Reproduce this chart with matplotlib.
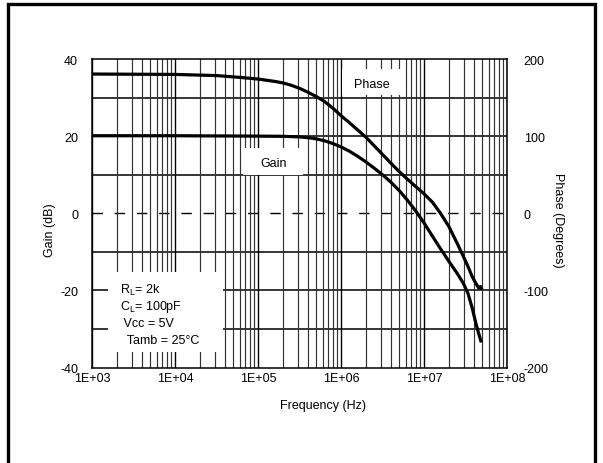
import matplotlib
matplotlib.use("Agg")
import matplotlib.pyplot as plt
import numpy as np
from matplotlib.ticker import FixedLocator, LogLocator, NullFormatter, FuncFormatter
from matplotlib.patches import Rectangle

plt.rcParams['font.family'] = ['Liberation Sans', 'DejaVu Sans']
plt.rcParams['mathtext.fontset'] = 'custom'
plt.rcParams['mathtext.rm'] = 'Liberation Sans'
plt.rcParams['mathtext.it'] = 'Liberation Sans'
plt.rcParams['font.size'] = 9
plt.rcParams['axes.unicode_minus'] = False

# ---- data ----
gain_freq = [1e3, 1e4, 1e5, 2.0e5, 3.16e5, 3.98e5, 5.01e5, 6.31e5, 7.94e5, 1.0e6,
             1.26e6, 1.58e6, 2.0e6, 2.51e6, 3.16e6, 3.98e6, 5.01e6, 6.31e6,
             7.94e6, 1.0e7, 1.26e7, 1.58e7, 2.0e7, 2.51e7, 2.95e7, 3.39e7,
             3.8e7, 4.27e7, 4.9e7]
gain_db = [20.1, 20.1, 20.0, 19.95, 19.8, 19.6, 19.3, 18.8, 18.1, 17.2,
           16.1, 14.8, 13.3, 11.7, 10.0, 8.1, 5.9, 3.4,
           0.6, -2.5, -5.9, -9.2, -12.5, -15.6, -18.0, -20.8,
           -24.5, -29.0, -33.5]

phase_freq = [1e3, 1e4, 3.16e4, 6.31e4, 1e5, 1.58e5, 2.0e5, 2.51e5, 3.16e5, 3.98e5,
              5.01e5, 6.31e5, 7.94e5, 1.0e6, 1.26e6, 1.58e6, 2.0e6, 2.51e6,
              3.16e6, 3.98e6, 5.01e6, 6.31e6, 7.94e6, 1.0e7, 1.26e7,
              1.58e7, 2.0e7, 2.51e7, 2.95e7, 3.39e7, 3.8e7, 4.17e7, 4.57e7,
              4.79e7, 5.01e7]
phase_deg = [180.5, 180, 178.5, 176, 174, 171, 169, 166, 162, 157,
             151.5, 145, 136.5, 126.5, 117.5, 108.2, 98.5, 87.5,
             76.3, 65, 54.2, 44.2, 34.6, 25.2, 14.5,
             0, -17.5, -39, -55, -69, -82, -90, -97,
             -95, -99]

gain_ticks = [40, 20, 0, -20, -40]
gain_grid = [30, 20, 10, -10, -20, -30]
phase_ticks = [200, 100, 0, -100, -200]
freq_ticks = [1e3, 1e4, 1e5, 1e6, 1e7, 1e8]
freq_labels = ["1E+03", "1E+04", "1E+05", "1E+06", "1E+07", "1E+08"]
params = [r"R$_\mathrm{L}$= 2k", r"C$_\mathrm{L}$= 100pF", " Vcc = 5V", "  Tamb = 25°C"]

# ---- figure ----
fig = plt.figure(figsize=(6.03, 4.64), dpi=100)
fig.patches.append(Rectangle((8/603, -0.1), (595-8)/603, 1.1 - 5/464,
                             transform=fig.transFigure, fill=False,
                             edgecolor='black', linewidth=2.4, zorder=0))

ax = fig.add_axes([92/603, 1 - 368.5/464, 415/603, 308.5/464])
ax.set_xscale('log')
ax.set_xlim(1e3, 1e8)
ax.set_ylim(-40, 40)

# grid
ax.xaxis.set_major_locator(FixedLocator(freq_ticks))
ax.xaxis.set_minor_locator(LogLocator(base=10, subs=np.arange(2, 10), numticks=20))
ax.xaxis.set_minor_formatter(NullFormatter())
ax.xaxis.set_major_formatter(FuncFormatter(lambda v, p: freq_labels[freq_ticks.index(v)] if v in freq_ticks else ""))
ax.grid(True, which='major', axis='x', color='black', linewidth=1.0, zorder=1)
ax.grid(True, which='minor', axis='x', color='#333333', linewidth=0.85, zorder=1)
for g in gain_grid:
    ax.axhline(g, color='black', linewidth=1.1, zorder=1)
ax.axhline(0, color='black', linewidth=1.0, dashes=(7.5, 8.5), zorder=1)

ax.set_yticks(gain_ticks)
ax.tick_params(axis='both', which='both', length=0)
ax.tick_params(axis='y', pad=10)
ax.tick_params(axis='x', pad=3)
for s in ax.spines.values():
    s.set_linewidth(1.1)
    s.set_color('black')

ax2 = ax.twinx()
ax2.set_ylim(-200, 200)
ax2.set_yticks(phase_ticks)
ax2.tick_params(axis='y', length=0, pad=12)
for s in ax2.spines.values():
    s.set_visible(False)

ax.set_xlabel("Frequency (Hz)")
ax.xaxis.set_label_coords((323 - 92) / 415, -(400 - 368.5) / 308.5)
ax.set_ylabel("Gain (dB)")
ax.yaxis.set_label_coords(-(92 - 56) / 415, (368.5 - 230) / 308.5)
ax2.set_ylabel("Phase (Degrees)", rotation=270, va='center')
ax2.yaxis.set_label_coords((558 - 92) / 415, (368.5 - 220) / 308.5)

# white label boxes covering the grid
boxes = [(0.3639, 0.624, 0.5084, 0.7115), (0.6024, 0.8833, 0.7446, 0.9676),
         (0.0386, 0.0502, 0.3157, 0.3096)]
for x0, y0, x1, y1 in boxes:
    ax.add_patch(Rectangle((x0, y0), x1 - x0, y1 - y0, transform=ax.transAxes,
                           facecolor='white', edgecolor='none', zorder=2))
ax.text(0.4386, 0.6629, "Gain", transform=ax.transAxes, ha='center', va='center', zorder=3)
ax.text(0.6747, 0.919, "Phase", transform=ax.transAxes, ha='center', va='center', zorder=3)
for t, yy in zip(params, [0.2545, 0.1994, 0.1443, 0.0891]):
    ax.text(0.0675, yy, t, transform=ax.transAxes, ha='left', va='center', zorder=3)

# curves
ax.plot(gain_freq, gain_db, color='black', linewidth=2.3, zorder=4,
        solid_joinstyle='round', solid_capstyle='butt')
ax2.plot(phase_freq, phase_deg, color='black', linewidth=2.3, zorder=4,
         solid_joinstyle='round', solid_capstyle='butt')

fig.savefig("out.png", dpi=100)
